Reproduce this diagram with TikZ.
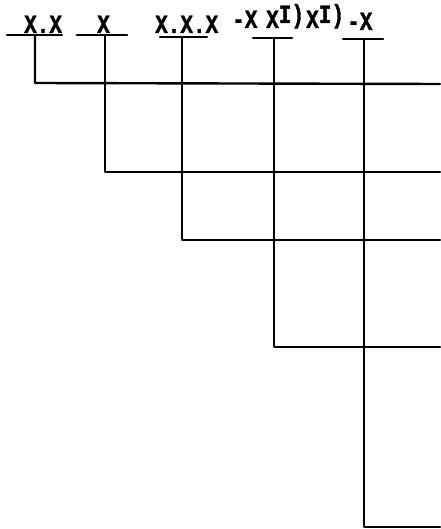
\documentclass[tikz,border=0pt]{standalone}
\usepackage{fontspec}
\newfontfamily\labfont{Liberation Mono Bold}[FakeBold=1.5]
\newcommand{\tx}[1]{\scalebox{1}[1.25]{\labfont #1}}
\begin{document}
\begin{tikzpicture}[x=1pt,y=-1pt,
  lab/.style={inner sep=0pt,anchor=base west,font=\fontsize{21}{22}\selectfont},
  rule/.style={line width=2.4pt,line cap=round,line join=round}]
\useasboundingbox (0,0) rectangle (440,529);
% labels
\node[lab] (l1) at (24,33) {\tx{X.X}};
\node[lab] (l2) at (97,33) {\tx{X}};
\node[lab] (l3) at (155,33) {\tx{X.X.X}};
\node[lab] (l4a) at (232,28) {\tx{-X}};
\node[lab] (l4b) at (266,28) {\tx{X\raisebox{4pt}{I)}}};
\node[lab] (l4c) at (306,28) {\tx{X\raisebox{4pt}{I)}}};
\node[lab] (l5) at (347,30) {\tx{-X}};
% underline end points
\coordinate (u1a) at (7,35);   \coordinate (u1b) at (62,35);
\coordinate (u2a) at (77,35);  \coordinate (u2b) at (127,35);
\coordinate (u3a) at (160,37); \coordinate (u3b) at (207,37);
\coordinate (u4a) at (253,38); \coordinate (u4b) at (292,38);
\coordinate (u5a) at (343,39); \coordinate (u5b) at (383,39);
% stem tops, corners, right ends
\coordinate (s1) at (35,35);   \coordinate (c1) at (35,83);   \coordinate (e1) at (440,84);
\coordinate (s2) at (105,35);  \coordinate (c2) at (105,172); \coordinate (e2) at (440,172);
\coordinate (s3) at (182,37);  \coordinate (c3) at (182,240); \coordinate (e3) at (440,240);
\coordinate (s4) at (274,38);  \coordinate (c4) at (274,347); \coordinate (e4) at (440,347);
\coordinate (s5) at (364,39);  \coordinate (c5) at (364,527); \coordinate (e5) at (440,527);
% underlines
\draw[rule] (u1a) -- (u1b);
\draw[rule] (u2a) -- (u2b);
\draw[rule] (u3a) -- (u3b);
\draw[rule] (u4a) -- (u4b);
\draw[rule] (u5a) -- (u5b);
% connectors
\draw[rule] (s1) -- (c1) -- (e1);
\draw[rule] (s2) -- (c2) -- (e2);
\draw[rule] (s3) -- (c3) -- (e3);
\draw[rule] (s4) -- (c4) -- (e4);
\draw[rule] (s5) -- (c5) -- (e5);
\end{tikzpicture}
\end{document}
